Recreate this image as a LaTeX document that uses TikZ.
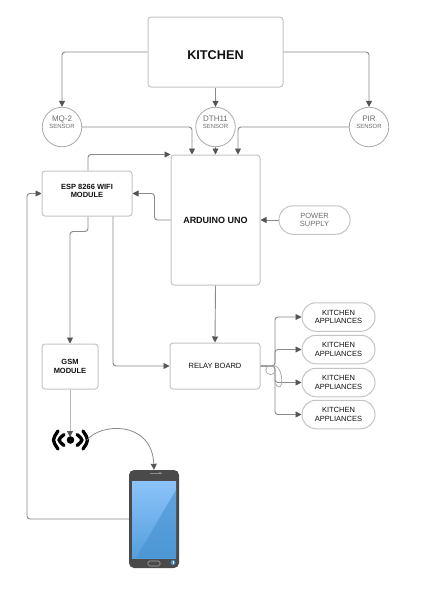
\documentclass[tikz,border=0pt]{standalone}
\usepackage{fontspec}
\setmainfont{Liberation Sans}
\usetikzlibrary{arrows.meta,calc}
\definecolor{edgeg}{HTML}{C4C4C4}
\definecolor{circg}{HTML}{ABABAB}
\definecolor{lineg}{HTML}{8A8A8A}
\definecolor{tipg}{HTML}{555555}
\definecolor{txtg}{HTML}{6E6E6E}
\definecolor{txtd}{HTML}{111111}
\definecolor{phoneb}{HTML}{4A4A4A}
\definecolor{scrtop}{HTML}{8CC3FA}
\definecolor{scrbot}{HTML}{559FDC}
\definecolor{scrdark}{HTML}{4691D0}
\newcommand{\senslabel}[1]{\raisebox{3.5pt}[\height][\depth]{\begin{tabular}{@{}c@{}}#1\\[-1.5pt]{\fontsize{6}{6}\selectfont SENSOR}\end{tabular}}}
\tikzset{
  boxn/.style={draw=edgeg,line width=1pt,fill=white,rounded corners=3pt,inner sep=0pt,align=center,text=txtd,font=\fontsize{7.5}{9}\selectfont},
  pilln/.style={draw=edgeg,line width=1pt,fill=white,rounded corners=14pt,inner sep=0pt,align=center,text=txtd,font=\fontsize{7.5}{8.5}\selectfont,minimum width=73pt,minimum height=28.5pt},
  sensor/.style={draw=circg,line width=.8pt,fill=white,circle,minimum size=39.5pt,inner sep=0pt,align=center,text=txtg,font=\fontsize{8}{8}\selectfont},
  conn/.style={draw=lineg,line width=.9pt,rounded corners=3pt,-{Triangle[length=6pt,width=6pt,color=tipg]}},
  plainc/.style={draw=lineg,line width=.8pt},
  sigarc/.style={draw=black,line width=3.3pt,line cap=round},
}
\begin{document}
\begin{tikzpicture}[x=1pt,y=-1pt]
\useasboundingbox[fill=white] (0,0) rectangle (446,597);
\node[boxn,minimum width=135pt,minimum height=70pt,font=\fontsize{12.7}{14}\selectfont\bfseries] (kitchen) at (215.5,52) {\raisebox{-3pt}[\height][\depth]{KITCHEN}};
\node[sensor] (mq) at (62,127) {\senslabel{MQ-2}};
\node[sensor] (dth) at (215.5,127) {\senslabel{DTH11}};
\node[sensor] (pir) at (369,127) {\senslabel{PIR}};
\node[boxn,minimum width=89pt,minimum height=130pt,font=\fontsize{9}{10}\selectfont\bfseries] (ard) at (215.5,220) {ARDUINO UNO};
\node[boxn,minimum width=90pt,minimum height=45pt,font=\fontsize{7.5}{8}\selectfont\bfseries] (esp) at (87,193.5) {\raisebox{2pt}[\height][\depth]{\begin{tabular}{@{}c@{}}ESP 8266 WIFI\\MODULE\end{tabular}}};
\node[pilln,minimum width=71pt,text=txtg] (power) at (314.5,220) {POWER\\SUPPLY};
\node[boxn,minimum width=56pt,minimum height=45pt,font=\fontsize{7.5}{8.5}\selectfont\bfseries] (gsm) at (70,366.5) {GSM\\MODULE};
\node[boxn,minimum width=90pt,minimum height=46pt] (relay) at (215,366) {RELAY BOARD};
\node[pilln] (appa) at (338.5,317) {KITCHEN\\APPLIANCES};
\node[pilln] (appb) at (338.5,349.5) {KITCHEN\\APPLIANCES};
\node[pilln] (appc) at (338.5,382.5) {KITCHEN\\APPLIANCES};
\node[pilln] (appd) at (338.5,414.5) {KITCHEN\\APPLIANCES};
\node[minimum width=33pt,minimum height=24pt,inner sep=0pt] (sig) at (70.5,440) {};
\node[minimum width=50pt,minimum height=98pt,inner sep=0pt] (phone) at (154,519) {};
\coordinate (bus) at (275,366);
% signal icon
\fill[black] (70.5,440) circle (3.8pt);
\draw[sigarc] (58,431) .. controls (52,440) .. (58,449);
\draw[sigarc] (64,434.5) .. controls (57.5,440) .. (64,445.5);
\draw[sigarc] (83,431) .. controls (89,440) .. (83,449);
\draw[sigarc] (77,434.5) .. controls (83.5,440) .. (77,445.5);
% phone
\fill[phoneb,rounded corners=5pt] (129,470) rectangle (179,568);
\shade[top color=scrtop,bottom color=scrbot] (132,481) rectangle (176,558);
\fill[scrdark,opacity=.6] (176,490) -- (176,558) -- (136,558) -- cycle;
\fill[black!45] (150,472.6) rectangle (162,473.4);
\fill[black!45] (160,473) circle (1.2pt);
\draw[black!35,line width=.6pt,rounded corners=1.5pt] (148,561) rectangle (160,566);
\fill[scrdark] (173,562.5) circle (2.5pt);
\fill[white] (172.6,561) rectangle (173.4,564);
% connectors
\draw[conn] (kitchen.west) -| (mq.north);
\draw[conn] (kitchen.south) -- (dth.north);
\draw[conn] (kitchen.east) -| (pir.north);
\draw[conn] (mq.east) -| ([xshift=-23.5pt]ard.north);
\draw[conn] (dth.south) -- (ard.north);
\draw[conn] (pir.west) -| ([xshift=22.5pt]ard.north);
\draw[conn] ([xshift=1pt]esp.north) |- (ard.north west);
\draw[conn] (ard.west) -- ++(-16,0) |- (esp.east);
\draw[conn] (power.west) -- (ard.east);
\draw[conn] (ard.south) -- (relay.north);
\draw[conn] ([xshift=1pt]esp.south) -- ++(0,15) -| (gsm.north);
\draw[conn] ([xshift=26pt]esp.south) |- (relay.west);
\draw[conn,draw=edgeg!80!lineg] (gsm.south) -- ($(sig.center)+(-.5,-3)$);
\draw[plainc,-{Triangle[length=6pt,width=6pt,color=tipg]}] (sig.east) .. controls (100,423) and (152,420) .. (phone.north);
\draw[conn] (phone.west) -- (27,519) |- (esp.west);
\draw[conn] (relay.east) -- (bus) |- (appa.west);
\draw[conn] (relay.east) -- (bus) |- (appb.west);
\draw[conn] (relay.east) -- (bus) |- (appc.west);
\draw[conn] (relay.east) -- (bus) |- (appd.west);
\draw[plainc,draw=lineg!70] ([shift={(-4.5pt,-4pt)}]bus) circle (4.7pt);
\draw[plainc,draw=lineg!70] (bus) .. controls ++(9,1) and ++(9,15) .. ++(0,17);
\end{tikzpicture}
\end{document}
